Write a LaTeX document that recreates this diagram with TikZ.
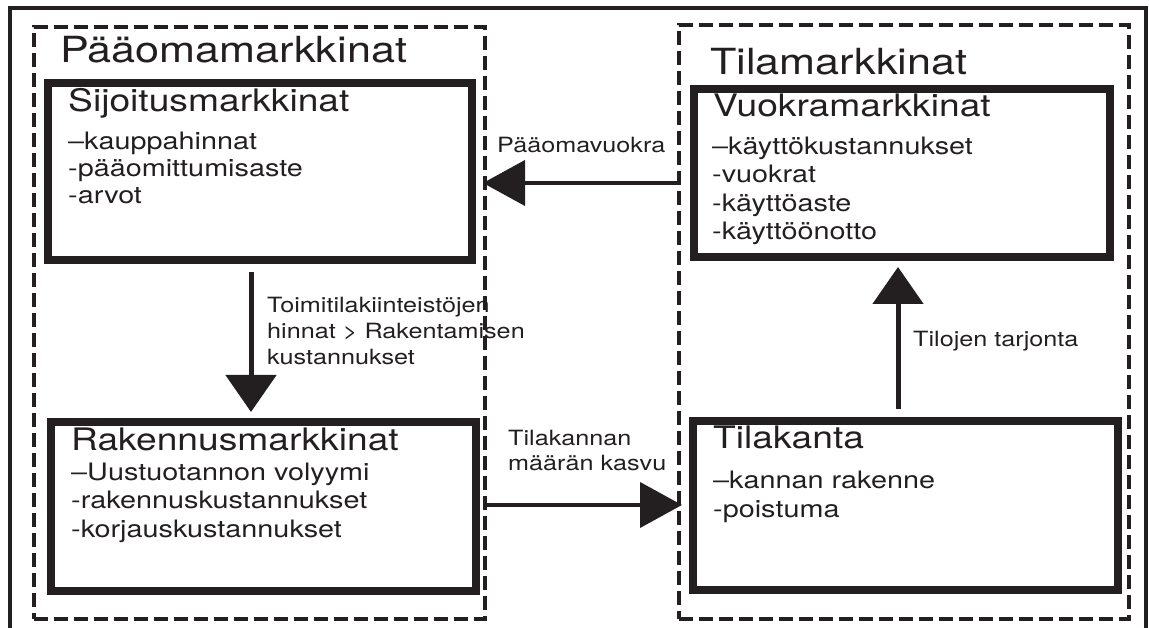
\documentclass[tikz,border=0pt]{standalone}
\usepackage{fontspec}
\setmainfont[FakeStretch=1.2]{TeX Gyre Heros}
\usetikzlibrary{arrows.meta}
\definecolor{ink}{RGB}{35,31,32}
\begin{document}
\begin{tikzpicture}[x=1pt,y=-1pt,
  group/.style={draw=ink, line width=4pt, dash pattern=on 14pt off 6pt,
    inner sep=0pt, outer sep=0pt},
  market/.style={draw=ink, line width=7.5pt, inner sep=0pt, outer sep=0pt},
  heading/.style={anchor=base west, inner sep=0pt, text=ink,
    font=\fontsize{36}{42}\selectfont},
  subheading/.style={anchor=base west, inner sep=0pt, text=ink,
    font=\fontsize{31}{36}\selectfont},
  item/.style={anchor=base west, inner sep=0pt, text=ink,
    font=\fontsize{24}{28}\selectfont},
  flowlabel/.style={anchor=base west, inner sep=0pt, text=ink,
    font=\fontsize{21}{26}\selectfont},
  vflow/.style={draw=ink, line width=5pt, -{Triangle[length=37pt,width=50pt]}},
  hflow/.style={draw=ink, line width=4pt, -{Triangle[length=42pt,width=45pt]}},
]
\useasboundingbox (0,0) rectangle (1149,628);

% outer frame, open at the bottom
\draw[ink, line width=3.5pt] (10,628) -- (10,8) -- (1146,8) -- (1146,628);

% flow labels (drawn first so the dashed borders run over them)
\node[flowlabel] (lblprice1) at (267,313) {Toimitilakiinteistöjen};
\node[flowlabel] (lblprice2) at (267,339) {hinnat > Rakentamisen};
\node[flowlabel] (lblprice3) at (267,364) {kustannukset};
\node[flowlabel] (lblrent) at (497,153) {Pääomavuokra};
\node[flowlabel] (lblgrowth1) at (508,445) {Tilakannan};
\node[flowlabel] (lblgrowth2) at (508,470) {määrän kasvu};
\node[flowlabel] (lblsupply) at (913,347) {Tilojen tarjonta};

% the two market groups
\node[group, minimum width=451pt, minimum height=592pt] (lgrp) at (259.5,323) {};
\node[group, minimum width=450pt, minimum height=594pt] (rgrp) at (904,322) {};
\node[heading] (lhead) at (60,63) {Pääomamarkkinat};
\node[heading] (rhead) at (710,75) {Tilamarkkinat};

% the four markets
\node[market, minimum width=424pt, minimum height=177pt] (sij) at (260,171.5) {};
\node[market, minimum width=425pt, minimum height=169pt] (rak) at (263.5,506.5) {};
\node[market, minimum width=416pt, minimum height=168pt] (vuo) at (902,173) {};
\node[market, minimum width=425pt, minimum height=169pt] (til) at (905.5,505.5) {};

\node[subheading] (sijt) at (68,112) {Sijoitusmarkkinat};
\node[item] (siji1) at (68,150) {–kauppahinnat};
\node[item] (siji2) at (68,177) {-pääomittumisaste};
\node[item] (siji3) at (68,204) {-arvot};

\node[subheading] (rakt) at (71,450) {Rakennusmarkkinat};
\node[item] (raki1) at (71,480) {–Uustuotannon volyymi};
\node[item] (raki2) at (71,508) {-rakennuskustannukset};
\node[item] (raki3) at (71,537) {-korjauskustannukset};

\node[subheading] (vuot) at (713,117) {Vuokramarkkinat};
\node[item] (vuoi1) at (712,155) {–käyttökustannukset};
\node[item] (vuoi2) at (712,183) {-vuokrat};
\node[item] (vuoi3) at (712,212) {-käyttöaste};
\node[item] (vuoi4) at (712,240) {-käyttöönotto};

\node[subheading] (tilt) at (713,448) {Tilakanta};
\node[item] (tili1) at (713,488) {–kannan rakenne};
\node[item] (tili2) at (713,517) {-poistuma};

% flows between the markets
\coordinate (rentrow) at (0,183);
\coordinate (growthrow) at (0,505);
\draw[vflow] ([shift={(-9,12)}]sij.south) -- ([shift={(-12.5,-10)}]rak.north);
\draw[vflow] ([shift={(-7.5,-12)}]til.north) -- ([shift={(-4,10)}]vuo.south);
\draw[hflow, shorten >=-3pt] (lgrp.east |- growthrow) -- (rgrp.west |- growthrow);
\draw[hflow, shorten >=-2pt] (rgrp.west |- rentrow) -- (lgrp.east |- rentrow);
\end{tikzpicture}
\end{document}
